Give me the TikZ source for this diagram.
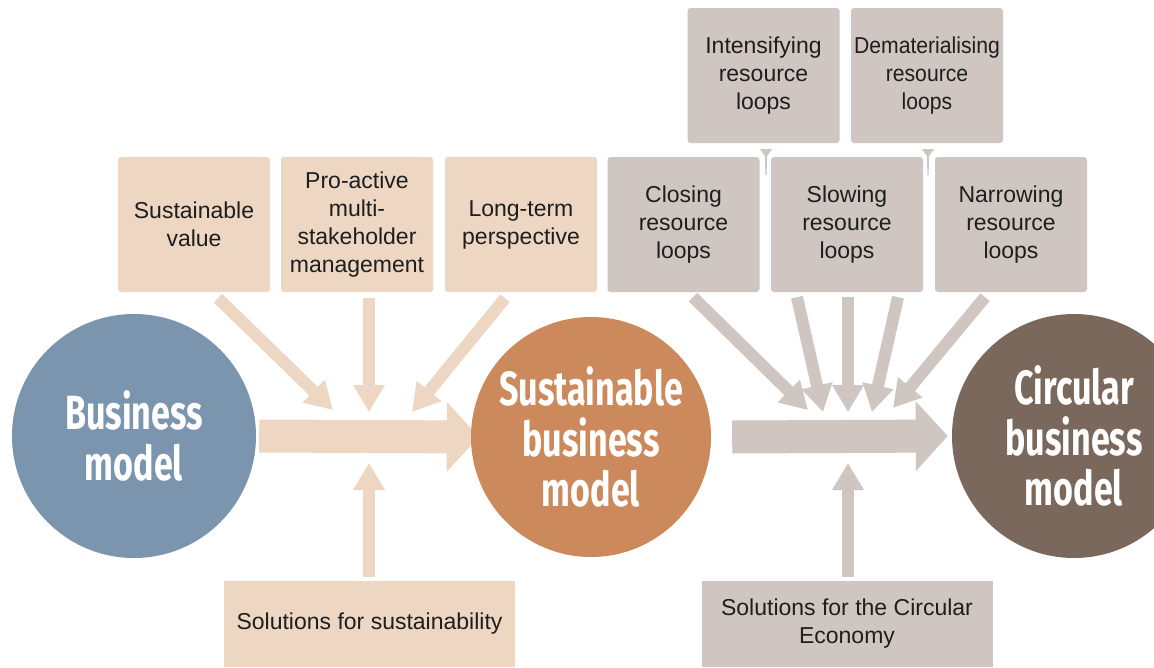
\documentclass[tikz,border=0pt]{standalone}
\usepackage{fontspec}
\setmainfont{Liberation Sans}
\newfontfamily\circfont[FakeStretch=0.71]{Fira Sans}
\newfontfamily\narrowboxfont[FakeStretch=0.92]{Liberation Sans}
\usetikzlibrary{arrows.meta}
\definecolor{peach}{RGB}{237,214,194}
\definecolor{greybox}{RGB}{207,198,193}
\definecolor{bmblue}{RGB}{122,149,173}
\definecolor{sborange}{RGB}{203,137,92}
\definecolor{cbbrown}{RGB}{122,104,92}
\definecolor{boxtext}{RGB}{30,30,30}
\pgfdeclarelayer{bg}
\pgfdeclarelayer{arr}
\pgfsetlayers{bg,arr,main}
\tikzset{
  boxnode/.style={rectangle, rounded corners=3pt, minimum width=152pt, minimum height=135pt,
    inner sep=0pt, align=center, text=boxtext, font=\fontsize{23}{28}\selectfont},
  solbox/.style={rectangle, minimum width=291pt, minimum height=86pt,
    inner sep=0pt, align=center, text=boxtext, font=\fontsize{23}{28}\selectfont},
  bigcircle/.style={circle, minimum size=244pt, inner sep=0pt, align=center, text=white,
    font=\circfont\bfseries\fontsize{48}{50.5}\selectfont},
  thinarrow/.style={line width=12pt, -{Triangle[length=27pt,width=30pt]}},
  bigarrow/.style={line width=33pt, -{Triangle[length=32pt,width=68pt]}},
}
\begin{document}
\begin{tikzpicture}[x=1pt,y=-1pt]
\useasboundingbox (0,0) rectangle (1154,667);
\clip (0,0) rectangle (1154,667);
\begin{pgfonlayer}{bg}
\fill[white] (0,0) rectangle (1154,667);
\end{pgfonlayer}

% boxes
\node[boxnode, fill=peach] (sv) at (194,224.5) {Sustainable\\value};
\node[boxnode, fill=peach] (pa) at (357,224.5) {Pro-active\\multi-\\stakeholder\\management};
\node[boxnode, fill=peach] (lt) at (521,224.5) {Long-term\\perspective};
\node[boxnode, fill=greybox] (cl) at (683.5,224.5) {Closing\\resource\\loops};
\node[boxnode, fill=greybox] (sl) at (847,224.5) {Slowing\\resource\\loops};
\node[boxnode, fill=greybox] (na) at (1011,224.5) {Narrowing\\resource\\loops};
\node[boxnode, fill=greybox] (in) at (763.5,75.5) {Intensifying\\resource\\loops};
\node[boxnode, fill=greybox, font=\narrowboxfont\fontsize{23}{28}\selectfont] (de) at (927,75.5) {Dematerialising\\resource\\loops};
\node[solbox, fill=peach] (s1) at (369.5,624) {Solutions for sustainability};
\node[solbox, fill=greybox] (s2) at (847,624) {Solutions for the Circular\\Economy};

% small connectors under the top boxes
\coordinate (inlink) at (in.south -| 766,0);
\coordinate (delink) at (de.south -| 928,0);
\fill[greybox] ([shift={(-6,6)}]inlink) -- ([shift={(6,6)}]inlink) -- ([shift={(1,13)}]inlink)
  -- ([shift={(0.6,32)}]inlink) -- ([shift={(-0.6,32)}]inlink) -- ([shift={(-1,13)}]inlink) -- cycle;
\fill[greybox] ([shift={(-6,6)}]delink) -- ([shift={(6,6)}]delink) -- ([shift={(1,13)}]delink)
  -- ([shift={(0.6,32)}]delink) -- ([shift={(-0.6,32)}]delink) -- ([shift={(-1,13)}]delink) -- cycle;

% circles
\node[bigcircle, fill=bmblue] (bm) at (134,436) {Business\\model};
\node[bigcircle, fill=sborange, minimum size=240pt] (sb) at (591,437) {Sustainable\\business\\model};
\node[bigcircle, fill=cbbrown] (cb) at (1074,436) {Circular\\business\\model};

% tips
\coordinate (t1) at (333,410);
\coordinate (t2) at (369,412);
\coordinate (t3) at (412,412);
\coordinate (t4) at (369,463);
\coordinate (g1) at (808,410);
\coordinate (g2) at (823,412);
\coordinate (g3) at (848,412);
\coordinate (g4) at (872,412);
\coordinate (g5) at (893,408);
\coordinate (g6) at (848,463);

\begin{pgfonlayer}{arr}
% peach arrows
\draw[thinarrow, draw=peach] (sv.south -| 218,0) ++(0,6) -- (t1);
\draw[thinarrow, draw=peach] (pa.south -| 369,0) ++(0,6) -- (t2);
\draw[thinarrow, draw=peach] (lt.south -| 505,0) ++(0,6) -- (t3);
\draw[thinarrow, draw=peach] (s1.north -| 369,0) ++(0,-4) -- (t4);
% grey arrows
\draw[thinarrow, draw=greybox] (cl.south -| 693,0) ++(0,5) -- (g1);
\draw[thinarrow, draw=greybox] (sl.south -| 797,0) ++(0,5) -- (g2);
\draw[thinarrow, draw=greybox] (sl.south -| 848,0) ++(0,5) -- (g3);
\draw[thinarrow, draw=greybox] (sl.south -| 898,0) ++(0,5) -- (g4);
\draw[thinarrow, draw=greybox] (na.south -| 985,0) ++(0,5) -- (g5);
\draw[thinarrow, draw=greybox] (s2.north -| 848,0) ++(0,-4) -- (g6);
% big arrows
\draw[bigarrow, draw=peach] ([xshift=3pt]bm.east) -- ([xshift=8pt]sb.west);
\draw[bigarrow, draw=greybox] ([xshift=21pt]sb.east) -- ([xshift=-4pt]cb.west);
\end{pgfonlayer}
\end{tikzpicture}
\end{document}
